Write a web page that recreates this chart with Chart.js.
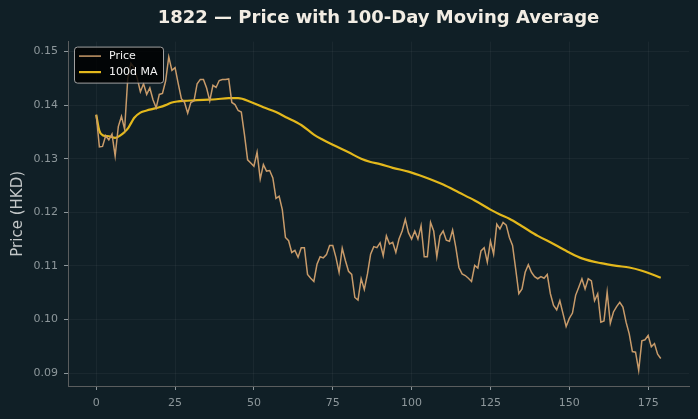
<!DOCTYPE html>
<html><head><meta charset="utf-8">
<script src="https://cdn.jsdelivr.net/npm/chart.js@4.4.0/dist/chart.umd.min.js"></script>
<style>html,body{margin:0;padding:0;background:#101f26;}#wrap{width:698px;height:419px;}</style>
</head><body><div id="wrap"><canvas id="c" width="698" height="419"></canvas></div>
<script>
const chartTitle = "1822 — Price with 100-Day Moving Average";
const yAxisTitle = "Price (HKD)";
const seriesNames = ["Price", "100d MA"];
const days = [0,1,2,3,4,5,6,7,8,9,10,11,12,13,14,15,16,17,18,19,20,21,22,23,24,25,26,27,28,29,
30,31,32,33,34,35,36,37,38,39,40,41,42,43,44,45,46,47,48,49,50,51,52,53,54,55,56,57,58,59,
60,61,62,63,64,65,66,67,68,69,70,71,72,73,74,75,76,77,78,79,80,81,82,83,84,85,86,87,88,89,
90,91,92,93,94,95,96,97,98,99,100,101,102,103,104,105,106,107,108,109,110,111,112,113,114,115,116,117,118,119,
120,121,122,123,124,125,126,127,128,129,130,131,132,133,134,135,136,137,138,139,140,141,142,143,144,145,146,147,148,149,
150,151,152,153,154,155,156,157,158,159,160,161,162,163,164,165,166,167,168,169,170,171,172,173,174,175,176,177,178,179];
const price = [
0.1382,0.1322,0.1323,0.1343,0.1335,0.1346,0.1305,0.1360,0.1379,0.1355,
0.1450,0.1478,0.1470,0.1450,0.1425,0.1440,0.1420,0.1432,0.1410,0.1395,
0.1420,0.1422,0.1445,0.1490,0.1465,0.1470,0.1440,0.1412,0.1405,0.1385,
0.1405,0.1408,0.1440,0.1448,0.1448,0.1432,0.1408,0.1437,0.1433,0.1446,
0.1448,0.1448,0.1449,0.1405,0.1401,0.1390,0.1387,0.1345,0.1298,0.1292,
0.1286,0.1312,0.1262,0.1289,0.1277,0.1278,0.1264,0.1226,0.1230,0.1205,
0.1153,0.1147,0.1125,0.1129,0.1116,0.1134,0.1134,0.1084,0.1077,0.1071,
0.1103,0.1117,0.1115,0.1121,0.1138,0.1138,0.1116,0.1088,0.1133,0.1110,
0.1090,0.1084,0.1041,0.1036,0.1076,0.1056,0.1085,0.1122,0.1136,0.1134,
0.1143,0.1119,0.1156,0.1141,0.1144,0.1125,0.1150,0.1165,0.1187,0.1162,
0.1150,0.1165,0.1150,0.1175,0.1117,0.1117,0.1181,0.1165,0.1117,0.1156,
0.1165,0.1148,0.1146,0.1167,0.1135,0.1097,0.1085,0.1082,0.1077,0.1071,
0.1101,0.1096,0.1128,0.1134,0.1107,0.1146,0.1122,0.1178,0.1169,0.1181,
0.1176,0.1153,0.1138,0.1094,0.1048,0.1057,0.1088,0.1102,0.1088,0.1080,
0.1076,0.1080,0.1077,0.1084,0.1048,0.1026,0.1018,0.1035,0.1011,0.0987,
0.1002,0.1012,0.1045,0.1060,0.1076,0.1057,0.1076,0.1072,0.1035,0.1048,
0.0995,0.0997,0.1051,0.0993,0.1014,0.1024,0.1032,0.1023,0.0995,0.0973,
0.0940,0.0939,0.0905,0.0960,0.0962,0.0970,0.0949,0.0955,0.0935,0.0927];
const maDays = [0,1,2,4,6,8,9,10,11,12,14,16,18,20,22,24,26,28,31,34,38,42,45,49,53,57,60,65,69,72,75,80,84,87,90,94,99,104,110,115,120,125,128,131,135,140,145,150,154,160,165,169,173,179];
const maValues = [0.1382,0.1352,0.1344,0.1342,0.1339,0.1345,0.1350,0.1356,0.1366,0.1376,0.1386,0.1390,0.1393,0.1396,0.1400,0.1405,0.1407,0.1408,0.1409,0.1410,0.1411,0.1413,0.1413,0.1406,0.1396,0.1387,0.1378,0.1363,0.1345,0.1335,0.1326,0.1312,0.1300,0.1294,0.1290,0.1283,0.1276,0.1266,0.1252,0.1237,0.1222,0.1205,0.1196,0.1188,0.1174,0.1156,0.1141,0.1125,0.1114,0.1105,0.1100,0.1097,0.1091,0.1078];
const xTicks = [0,25,50,75,100,125,150,175];
const yTicks = [0.09,0.10,0.11,0.12,0.13,0.14,0.15];

const BG = '#101f26';
const bgPlugin = {
  id: 'bg',
  beforeDraw(chart){ const c=chart.ctx; c.save(); c.fillStyle=BG; c.fillRect(0,0,chart.width,chart.height); c.restore(); }
};
const legendPlugin = {
  id: 'innerLegend',
  afterDraw(chart){
    const {ctx, chartArea} = chart;
    const x = chartArea.left + 6, y = chartArea.top + 5, w = 89, h = 36;
    ctx.save();
    ctx.beginPath();
    ctx.roundRect(x + 0.5, y + 0.5, w, h, 3);
    ctx.fillStyle = 'rgba(0,0,0,0.82)';
    ctx.fill();
    ctx.strokeStyle = '#a0a0a0'; ctx.lineWidth = 1; ctx.stroke();
    chart.data.datasets.forEach((ds, k) => {
      const ly = y + 9.5 + k * 16;
      ctx.strokeStyle = ds.borderColor; ctx.lineWidth = ds.borderWidth;
      ctx.beginPath(); ctx.moveTo(x + 5, ly); ctx.lineTo(x + 27, ly); ctx.stroke();
      ctx.fillStyle = '#f2f2f2'; ctx.font = '11px "DejaVu Sans"'; ctx.textBaseline = 'middle'; ctx.textAlign = 'left';
      ctx.fillText(ds.label, x + 35, ly);
    });
    ctx.restore();
  }
};

const tickFont = {family: 'DejaVu Sans', size: 11};
new Chart(document.getElementById('c'), {
  type: 'line',
  data: {
    datasets: [
      { label: seriesNames[0], data: days.map((d,i)=>({x:d, y:price[i]})), borderColor: '#c89b6a', borderWidth: 1.5, pointRadius: 0, tension: 0, fill: false },
      { label: seriesNames[1], data: maDays.map((d,i)=>({x:d, y:maValues[i]})), borderColor: '#e3b81c', borderWidth: 2.2, pointRadius: 0, cubicInterpolationMode: 'monotone', fill: false }
    ]
  },
  options: {
    responsive: false, animation: false, devicePixelRatio: 1,
    layout: { padding: { left: 0, right: 9, top: 0, bottom: 0 } },
    plugins: {
      legend: { display: false },
      tooltip: { enabled: false },
      title: { display: true, text: chartTitle, color: '#f2ede4', fullSize: false,
        font: { family: 'DejaVu Sans', size: 18, weight: 'bold' }, padding: { top: 8, bottom: 12 } }
    },
    scales: {
      x: {
        type: 'linear', min: -8.95, max: 187.95,
        afterBuildTicks: s => { s.ticks = xTicks.map(v => ({value: v})); },
        afterFit: s => { s.height = 33; },
        ticks: { color: '#8d979b', font: tickFont, padding: 7, maxRotation: 0, callback: v => String(v) },
        grid: { color: 'rgba(255,255,255,0.045)', tickColor: '#8d979b', tickLength: 4, lineWidth: 1 },
        border: { color: '#5a5d5e', width: 1 }
      },
      y: {
        min: 0.08758, max: 0.15186,
        afterBuildTicks: s => { s.ticks = yTicks.map(v => ({value: v})); },
        afterFit: s => { s.width = 68; },
        ticks: { color: '#8d979b', font: tickFont, padding: 6, callback: v => v.toFixed(2) },
        grid: { color: 'rgba(255,255,255,0.045)', tickColor: '#8d979b', tickLength: 4, lineWidth: 1 },
        border: { color: '#5a5d5e', width: 1 },
        title: { display: true, text: yAxisTitle, color: '#c3c7c8', font: { family: 'DejaVu Sans', size: 15 }, padding: { top: 9, bottom: 0 } }
      }
    }
  },
  plugins: [bgPlugin, legendPlugin]
});
</script></body></html>
